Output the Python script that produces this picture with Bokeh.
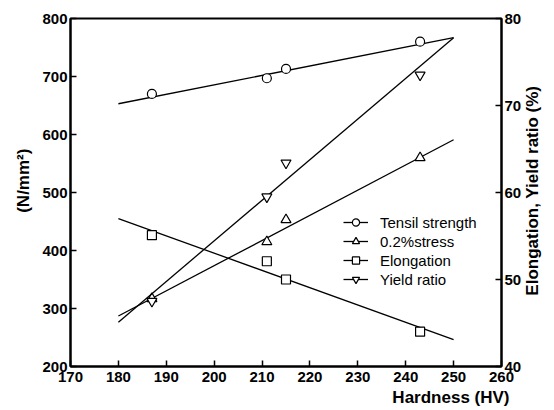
import math
from bokeh.plotting import figure
from bokeh.models import Range1d, LinearAxis, FixedTicker, Legend, LegendItem, Title
from bokeh.embed import file_html
from bokeh.resources import INLINE

# ---- data ----
hardness = [187, 211, 215, 243]
tensile_strength = [670, 697, 713, 760]
stress_02 = [317, 415, 453, 560]
elongation = [55.1, 52.1, 50.0, 44.0]
yield_ratio = [47.5, 59.5, 63.4, 73.5]

fit_x = [180, 250]
tensile_fit = [653, 767]
stress_fit = [287, 591]
elongation_fit = [57.0, 43.1]
yield_fit = [45.1, 77.8]

x_ticks = [170, 180, 190, 200, 210, 220, 230, 240, 250, 260]
left_ticks = [200, 300, 400, 500, 600, 700, 800]
right_ticks = [40, 50, 60, 70, 80]

FONT = "Liberation Sans"

p = figure(width=554, height=410, output_backend="svg", toolbar_location=None,
           x_range=Range1d(170, 260), y_range=Range1d(200, 800),
           min_border_left=70, min_border_right=52, min_border_top=18, min_border_bottom=44)
p.extra_y_ranges = {"right": Range1d(40, 80)}
p.grid.visible = False
p.outline_line_color = "black"
p.outline_line_width = 2
p.background_fill_color = "white"
p.border_fill_color = "white"

def style_axis(ax, ticks, standoff, label_standoff):
    ax.ticker = FixedTicker(ticks=ticks)
    ax.axis_line_width = 2
    ax.axis_line_color = "black"
    ax.major_tick_in = 6
    ax.major_tick_out = 0
    ax.major_tick_line_width = 1.5
    ax.minor_tick_line_color = None
    ax.major_label_text_font = FONT
    ax.major_label_text_font_style = "bold"
    ax.major_label_text_font_size = "15px"
    ax.major_label_text_color = "black"
    ax.major_label_standoff = standoff
    ax.axis_label_text_font = FONT
    ax.axis_label_text_font_style = "bold"
    ax.axis_label_text_font_size = "17px"
    ax.axis_label_text_color = "black"
    ax.axis_label_standoff = label_standoff

xa = p.xaxis[0]
style_axis(xa, x_ticks, 5, 2)

ya = p.yaxis[0]
style_axis(ya, left_ticks, 3, 6)
ya.axis_label = "\u00a0" * 5 + "(N/mm\u00b2)"

# right axis: ticks and tick labels
ra = LinearAxis(y_range_name="right")
style_axis(ra, right_ticks, 3, 5)
p.add_layout(ra, "right")

# right axis title, reading bottom-to-top, carried by a label-only axis
rl = LinearAxis(y_range_name="right")
style_axis(rl, [], 0, 8)
rl.axis_line_color = None
rl.major_tick_line_color = None
rl.major_tick_in = 0
rl.axis_label = "\u00a0" * 15 + "Elongation, Yield ratio (%)"
rl.axis_label_orientation = math.pi / 2
if "axis_label_align" in LinearAxis.properties():
    rl.axis_label_align = "start"
p.add_layout(rl, "right")

# x-axis title, right-aligned below the axis as in the reference
p.add_layout(Title(text="Hardness (HV)", align="right", offset=-8, standoff=2,
                   text_font=FONT, text_font_style="bold", text_font_size="17px",
                   text_color="black"), "below")

lw = 1.3
ms = 9
l1 = p.line(fit_x, tensile_fit, line_color="black", line_width=lw)
s1 = p.scatter(hardness, tensile_strength, marker="circle", size=ms,
               fill_color="white", line_color="black", line_width=1.2)
l2 = p.line(fit_x, stress_fit, line_color="black", line_width=lw)
s2 = p.scatter(hardness, stress_02, marker="triangle", size=ms + 1,
               fill_color="white", line_color="black", line_width=1.2)
l3 = p.line(fit_x, elongation_fit, line_color="black", line_width=lw, y_range_name="right")
s3 = p.scatter(hardness, elongation, marker="square", size=ms, y_range_name="right",
               fill_color="white", line_color="black", line_width=1.2)
l4 = p.line(fit_x, yield_fit, line_color="black", line_width=lw, y_range_name="right")
s4 = p.scatter(hardness, yield_ratio, marker="inverted_triangle", size=ms + 1, y_range_name="right",
               fill_color="white", line_color="black", line_width=1.2)

legend = Legend(items=[
    LegendItem(label="Tensil strength", renderers=[l1, s1]),
    LegendItem(label="0.2%stress", renderers=[l2, s2]),
    LegendItem(label="Elongation", renderers=[l3, s3]),
    LegendItem(label="Yield ratio", renderers=[l4, s4]),
], location=(273, 78))
legend.border_line_color = None
legend.background_fill_alpha = 0
legend.padding = 0
legend.margin = 0
legend.spacing = 1
legend.glyph_width = 25
legend.glyph_height = 18
legend.label_height = 18
legend.label_standoff = 12
legend.label_text_font = FONT
legend.label_text_font_size = "15px"
legend.label_text_color = "black"
p.add_layout(legend, "center")

open("out.html", "w").write(file_html(p, INLINE))
